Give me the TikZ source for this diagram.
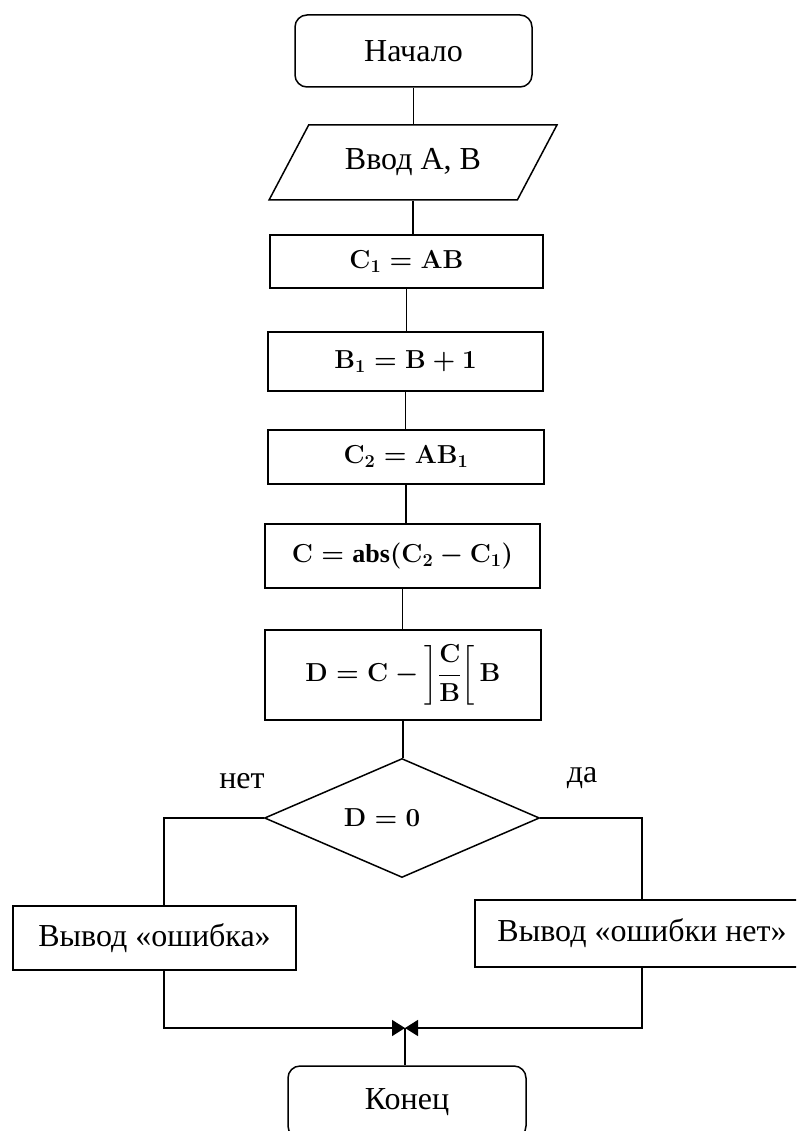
\RequirePackage{fix-cm}
\documentclass[tikz,border=0pt]{standalone}
\usepackage{amsmath}
\usepackage{fontspec}
\setmainfont{Liberation Serif}
\usetikzlibrary{shapes.geometric,arrows.meta}

\begin{document}
\begin{tikzpicture}[x=1pt,y=-1pt]
\tikzset{blk/.style={draw, line width=1.5pt, inner sep=0pt, font=\fontsize{32}{38}\selectfont},
  termbox/.style={blk, rectangle, rounded corners=12pt},
  procbox/.style={blk, rectangle, font=\fontsize{26}{30}\selectfont\boldmath},
  iobox/.style={blk, trapezium, trapezium left angle=46.6, trapezium right angle=133.4, trapezium stretches=true},
  condbox/.style={blk, diamond},
  lbl/.style={font=\fontsize{32}{38}\selectfont},
  link/.style={line width=1.5pt},
  bowtip/.style={-{Triangle[length=13pt,width=16pt]}}}
\useasboundingbox (0,0) rectangle (796,1131);
\clip (0,0) rectangle (796,1131);
% main column
\node[termbox, minimum width=237pt, minimum height=72pt] (start) at (413.5,51) {Начало};
\node[iobox, minimum width=288pt, minimum height=75pt] (input) at (413,162.5) {Ввод A, B};
\node[procbox, minimum width=273pt, minimum height=53pt] (c1) at (406.5,261.5) {$\mathbf{C}_1 = \mathbf{AB}$};
\node[procbox, minimum width=275pt, minimum height=59pt] (b1) at (405.5,361.5) {$\mathbf{B}_1 = \mathbf{B} + \mathbf{1}$};
\node[procbox, minimum width=276pt, minimum height=54pt] (c2) at (406,457) {$\mathbf{C}_2 = \mathbf{AB}_1$};
\node[procbox, minimum width=275pt, minimum height=64pt] (cabs) at (402.5,556) {$\mathbf{C} = \mathrm{abs}(\mathbf{C}_2 - \mathbf{C}_1)$};
\node[procbox, minimum width=276pt, minimum height=90pt] (dbox) at (403,675) {$\mathbf{D} = \mathbf{C} - \left]\dfrac{\mathbf{C}}{\mathbf{B}}\right[\mathbf{B}$};
\node[condbox, minimum width=275pt, minimum height=119pt] (cond) at (402,818) {};
\node[font=\fontsize{26}{30}\selectfont\boldmath] (condtxt) at (382,818) {$\mathbf{D} = \mathbf{0}$};
\node[lbl] (no) at (242,781) {нет};
\node[lbl] (yes) at (582,778) {да};
% branches
\node[blk, rectangle, minimum width=283pt, minimum height=64pt] (err) at (154.5,938) {Вывод «ошибка»};
\node[blk, rectangle, minimum width=334pt, minimum height=67pt] (ok) at (642,933.5) {Вывод «ошибки нет»};
\node[termbox, minimum width=238pt, minimum height=72pt] (end) at (407,1102) {Конец};
\coordinate (jn) at (405,1028);
\draw[link] (start.south) -- (start.south |- input.north);
\draw[link] (input.south) -- (input.south |- c1.north);
\draw[link] (c1.south) -- (c1.south |- b1.north);
\draw[link] (b1.south) -- (b1.south |- c2.north);
\draw[link] (c2.south) -- (c2.south |- cabs.north);
\draw[link] (cabs.south) -- (cabs.south |- dbox.north);
\draw[link] (dbox.south) -- (dbox.south |- cond.north);
\draw[link] (cond.west) -| ([xshift=9.5pt]err.north);
\draw[link] (cond.east) -| (ok.north);
\draw[link, bowtip] ([xshift=9.5pt]err.south) |- (jn);
\draw[link, bowtip] (ok.south) |- (jn);
\draw[link] (jn) -- (jn |- end.north);
\end{tikzpicture}
\end{document}
